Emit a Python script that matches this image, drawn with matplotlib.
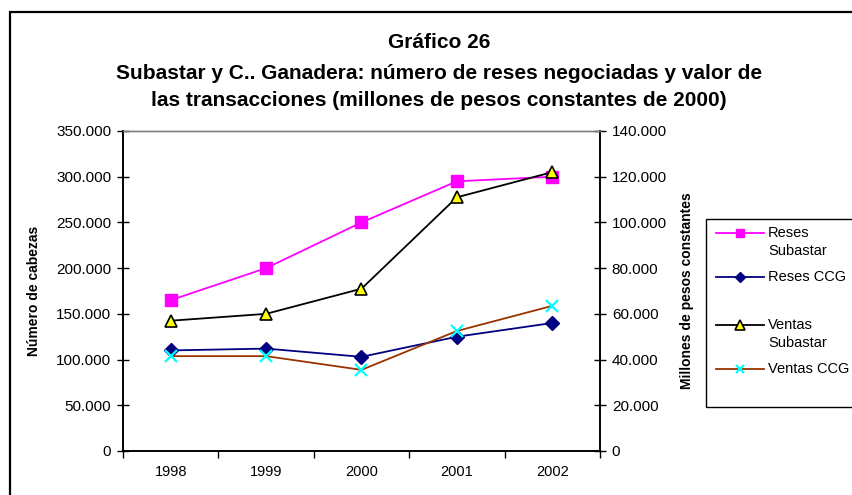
import matplotlib
matplotlib.use("Agg")
import matplotlib.pyplot as plt
from matplotlib.lines import Line2D
from matplotlib.patches import Rectangle
from matplotlib.ticker import FuncFormatter, MultipleLocator

plt.rcParams['font.family'] = ['Liberation Sans', 'DejaVu Sans']

years = ['1998', '1999', '2000', '2001', '2002']
reses_subastar = [165000, 200000, 250000, 295000, 300000]
reses_ccg = [110000, 112000, 103000, 125000, 140000]
ventas_subastar = [57000, 60000, 71000, 111000, 122000]
ventas_ccg = [41500, 41500, 35500, 52500, 63500]

title_lines = ["Gráfico 26",
               "Subastar y C.. Ganadera: número de reses negociadas y valor de",
               "las transacciones (millones de pesos constantes de 2000)"]
left_label = "Número de cabezas"
right_label = "Millones de pesos constantes"
legend_labels = [["Reses", "Subastar"], ["Reses CCG"], ["Ventas", "Subastar"], ["Ventas CCG"]]

W, H = 853, 495
fig = plt.figure(figsize=(W / 100, H / 100), dpi=100)

def fx(px):
    return px / W

def fy(py):
    return 1 - py / H

# outer frame
fig.add_artist(Rectangle((fx(10), fy(520)), fx(880 - 10), (520 - 12) / H,
                         transform=fig.transFigure, fill=False, lw=1.6, ec='black'))

ax = fig.add_axes([fx(123), fy(451), fx(600 - 123), (451 - 131) / H])
ax2 = ax.twinx()

x = list(range(len(years)))
style = dict(lw=1.3, clip_on=False)
l1, = ax.plot(x, reses_subastar, color='#FF00FF', marker='s', ms=8, mfc='#FF00FF', mec='#FF00FF', **style)
l2, = ax.plot(x, reses_ccg, color='#000080', marker='D', ms=7, mfc='#000080', mec='#000080', **style)
l3, = ax2.plot(x, ventas_subastar, color='black', marker='^', ms=9, mfc='#FFFF00', mec='black', mew=1.2, **style)
l4, = ax2.plot(x, ventas_ccg, color='#993300', marker='x', ms=8, mfc='#00FFFF', mec='#00FFFF', mew=1.6, **style)

ax.set_xlim(-0.5, 4.5)
ax.set_ylim(0, 350000)
ax2.set_ylim(0, 140000)
ax.yaxis.set_major_locator(MultipleLocator(50000))
ax2.yaxis.set_major_locator(MultipleLocator(20000))

def thousands(v, pos):
    return f"{int(round(v)):,}".replace(",", ".")

ax.yaxis.set_major_formatter(FuncFormatter(thousands))
ax2.yaxis.set_major_formatter(FuncFormatter(thousands))

ax.set_xticks([-0.5, 0.5, 1.5, 2.5, 3.5, 4.5])
ax.set_xticklabels([])
ax.set_xticks(x, minor=True)
ax.set_xticklabels(years, minor=True)
ax.tick_params(axis='x', which='major', direction='out', length=5, width=1, color='black')
ax.tick_params(axis='x', which='minor', length=0, pad=10, labelsize=10.5)
ax.tick_params(axis='y', direction='inout', length=9, width=1, labelsize=11, pad=4)
ax2.tick_params(axis='y', direction='inout', length=9, width=1, labelsize=11, pad=4)

for a in (ax, ax2):
    a.spines['top'].set_color('#808080')
    a.spines['top'].set_linewidth(1.0)
    for s in ('left', 'right', 'bottom'):
        a.spines[s].set_color('black')
        a.spines[s].set_linewidth(1.2)

ax.set_ylabel(left_label, fontsize=10, fontweight='bold')
ax.yaxis.set_label_coords((41 - 123) / (600 - 123), 0.5)
ax2.set_ylabel(right_label, fontsize=10, fontweight='bold', rotation=90)
ax2.yaxis.set_label_coords((680 - 123) / (600 - 123), 0.5)

# title
ty = [42, 73, 100]
for t, yy in zip(title_lines, ty):
    fig.text(fx(439), fy(yy), t, ha='center', va='center', fontsize=15, fontweight='bold')

# legend box
fig.add_artist(Rectangle((fx(706), fy(407)), fx(900 - 706), (407 - 219) / H,
                         transform=fig.transFigure, fill=False, lw=1.0, ec='black'))
handles = [l1, l2, l3, l4]
entry_y = [233, 277, 325, 369]
for h, lab, yy in zip(handles, legend_labels, entry_y):
    ln = Line2D([fx(716), fx(764)], [fy(yy), fy(yy)], transform=fig.transFigure,
                color=h.get_color(), lw=h.get_linewidth())
    fig.add_artist(ln)
    mk = Line2D([fx(740)], [fy(yy)], transform=fig.transFigure, linestyle='none',
                marker=h.get_marker(), ms=h.get_markersize() * 0.75,
                mfc=h.get_markerfacecolor(), mec=h.get_markeredgecolor(),
                mew=h.get_markeredgewidth())
    fig.add_artist(mk)
    for i, part in enumerate(lab):
        fig.text(fx(768), fy(yy + 18 * i), part, ha='left', va='center', fontsize=10.5)

fig.savefig('out.png', dpi=100)
